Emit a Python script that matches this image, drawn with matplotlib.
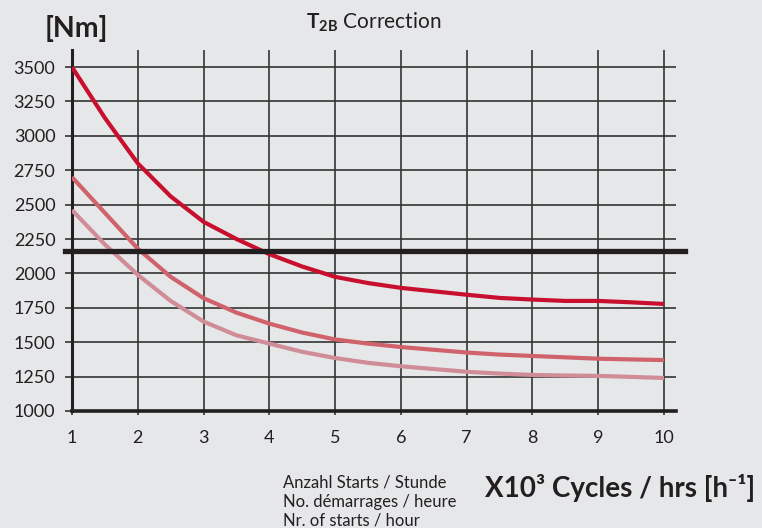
import matplotlib
matplotlib.use("Agg")
import matplotlib.pyplot as plt

# Data ###############################################
cycles = [1, 1.5, 2, 2.5, 3, 3.5, 4, 4.5, 5, 5.5, 6, 6.5, 7, 7.5, 8, 8.5, 9, 9.5, 10]
torque_top = [3500, 3130, 2800, 2560, 2375, 2250, 2140, 2050, 1975, 1930, 1895,
              1870, 1845, 1822, 1810, 1800, 1800, 1790, 1778]
torque_mid = [2700, 2440, 2180, 1975, 1820, 1715, 1635, 1570, 1520, 1490, 1465,
              1445, 1425, 1410, 1400, 1390, 1380, 1375, 1370]
torque_low = [2460, 2210, 1990, 1800, 1650, 1550, 1490, 1430, 1385, 1350, 1325,
              1305, 1285, 1272, 1262, 1258, 1255, 1248, 1240]
t2b_limit = 2160

y_ticks = [1000, 1250, 1500, 1750, 2000, 2250, 2500, 2750, 3000, 3250, 3500]
x_ticks = [1, 2, 3, 4, 5, 6, 7, 8, 9, 10]

bg = '#e6e7e9'
plt.rcParams['font.family'] = ['Lato', 'DejaVu Sans']
plt.rcParams['mathtext.fontset'] = 'custom'
plt.rcParams['mathtext.rm'] = 'Lato'
plt.rcParams['mathtext.bf'] = 'Lato:bold'

fig = plt.figure(figsize=(7.62, 5.28), dpi=100, facecolor=bg)
ax = fig.add_axes([0.0945, 0.2216, 0.7925, 0.6837])
ax.set_facecolor(bg)

# Curves #############################################
ax.plot(cycles, torque_low, color='#d08d98', lw=3, solid_capstyle='butt', zorder=3)
ax.plot(cycles, torque_mid, color='#d0626c', lw=3, solid_capstyle='butt', zorder=3)
ax.plot(cycles, torque_top, color='#c8102e', lw=3, solid_capstyle='butt', zorder=3)

# Limit line runs a bit past the plot on both sides
ax.axhline(t2b_limit, xmin=-0.012, xmax=1.015, color='#231f20', lw=3.8,
           clip_on=False, zorder=4)

# Axes and grid ######################################
ax.set_xlim(1, 10.18)
ax.set_ylim(1000, 3624)
ax.set_xticks(x_ticks)
ax.set_xticklabels([str(x) for x in x_ticks])
ax.set_yticks(y_ticks)
ax.grid(True, color='#333333', lw=1.2)
ax.set_axisbelow(True)

for side in ['top', 'right']:
    ax.spines[side].set_visible(False)
ax.spines['left'].set_linewidth(2.2)
ax.spines['bottom'].set_linewidth(2.6)
ax.spines['left'].set_color('#231f20')
ax.spines['bottom'].set_color('#231f20')

ax.tick_params(axis='y', length=5, width=1.2, color='#333333', pad=7,
               labelsize=13, labelcolor='#231f20')
ax.tick_params(axis='x', length=3, width=1.2, color='#333333', pad=11,
               labelsize=13, labelcolor='#231f20')

# Labels #############################################
fig.text(0.1, 0.946, '[Nm]', fontsize=20.5, fontweight='bold', ha='center',
         va='center', color='#231f20')
fig.text(0.402, 0.958, r'$\mathbf{T_{2B}}$ Correction', fontsize=15,
         ha='left', va='center', color='#231f20')

fig.text(0.371, 0.05, 'Anzahl Starts / Stunde\nNo. démarrages / heure\nNr. of starts / hour',
         fontsize=12, ha='left', va='center', linespacing=1.2, color='#231f20')
fig.text(0.636, 0.076, 'X10³ Cycles / hrs [h⁻¹]', fontsize=20, fontweight='bold',
         ha='left', va='center', color='#231f20')

plt.savefig('out.png', dpi=100, facecolor=fig.get_facecolor())
